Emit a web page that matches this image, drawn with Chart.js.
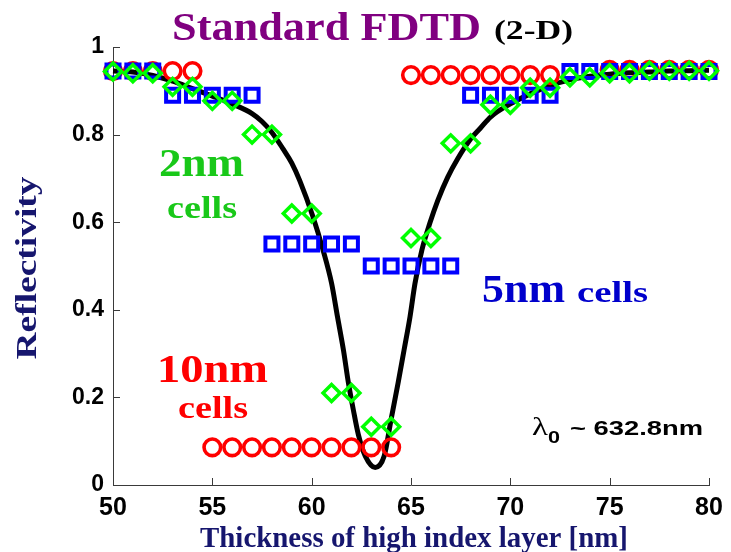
<!DOCTYPE html>
<html>
<head>
<meta charset="utf-8">
<script src="https://cdn.jsdelivr.net/npm/chart.js@4/dist/chart.umd.min.js"></script>
<style>
  html, body { margin: 0; padding: 0; background: #ffffff; }
  #wrap { width: 731px; height: 552px; position: relative; }
</style>
</head>
<body>
<div id="wrap"><canvas id="c" width="731" height="552"></canvas></div>
<script>
// Exact reflectivity curve versus thickness of the high index layer
const curveThickness = [50, 51, 52, 53, 54, 55, 56, 57, 57.5, 58, 58.55, 59, 59.4, 60.07, 60.57, 61.0, 61.3, 61.6, 61.85, 62.1, 62.35, 62.7, 63.2, 63.65, 64.0, 64.35, 64.65, 64.95, 65.2, 65.55, 65.95, 66.35, 66.85, 67.35, 68.0, 68.5, 69, 70, 71, 72, 73, 74, 75, 76, 77, 78, 79, 80];
const curveReflectivity = [0.945, 0.943, 0.935, 0.922, 0.905, 0.888, 0.87, 0.848, 0.83, 0.805, 0.768, 0.735, 0.695, 0.612, 0.537, 0.461, 0.384, 0.308, 0.233, 0.171, 0.115, 0.066, 0.04, 0.066, 0.15, 0.233, 0.308, 0.384, 0.46, 0.537, 0.598, 0.65, 0.703, 0.745, 0.79, 0.815, 0.84, 0.87, 0.893, 0.912, 0.925, 0.933, 0.938, 0.941, 0.943, 0.945, 0.946, 0.947];

// Standard FDTD results, one value per thickness (nm)
const thickness = [50, 51, 52, 53, 54, 55, 56, 57, 58, 59, 60, 61, 62, 63, 64, 65, 66, 67, 68, 69, 70, 71, 72, 73, 74, 75, 76, 77, 78, 79, 80];
const cells10nm = [0.945, 0.945, 0.945, 0.945, 0.945, 0.086, 0.086, 0.086, 0.086, 0.086, 0.086, 0.086, 0.086, 0.086, 0.086, 0.936, 0.936, 0.936, 0.936, 0.936, 0.936, 0.936, 0.936, null, null, 0.948, 0.948, 0.948, 0.948, 0.948, 0.948];
const cells5nm = [0.945, 0.945, 0.945, 0.89, 0.89, 0.89, 0.89, 0.89, 0.55, 0.55, 0.55, 0.55, 0.55, 0.50, 0.50, 0.50, 0.50, 0.50, 0.89, 0.89, 0.89, 0.89, 0.89, 0.944, 0.944, 0.944, 0.944, 0.944, 0.944, 0.944, 0.944];
const cells2nm = [0.944, 0.94, 0.94, 0.909, 0.909, 0.877, 0.877, 0.80, 0.80, 0.62, 0.62, 0.21, 0.21, 0.133, 0.133, 0.564, 0.564, 0.78, 0.78, 0.868, 0.868, 0.907, 0.907, 0.931, 0.931, 0.94, 0.94, 0.946, 0.946, 0.946, 0.946];

// Axis ticks
const xTickValues = [50, 55, 60, 65, 70, 75, 80];
const yTickValues = [0, 0.2, 0.4, 0.6, 0.8, 1];
const xTickLabels = ['50', '55', '60', '65', '70', '75', '80'];
const yTickLabels = ['0', '0.2', '0.4', '0.6', '0.8', '1'];

const SERIF = '"Liberation Serif", "Times New Roman", serif';
const SANS = '"Liberation Sans", Arial, sans-serif';
const AXIS_COLOR = '#3a3a3a';
const NAVY = '#16166e';

function pairs(xs, ys) {
  const out = [];
  for (let i = 0; i < xs.length; i++) {
    if (ys[i] !== null) out.push({ x: xs[i], y: ys[i] });
  }
  return out;
}

// Draw text stretched horizontally so it spans a given width
function fitText(ctx, str, x, y, font, color, width, align, rotation) {
  ctx.save();
  ctx.font = font;
  const natural = ctx.measureText(str).width;
  ctx.translate(x, y);
  if (rotation) ctx.rotate(rotation);
  ctx.scale(width / natural, 1);
  ctx.textAlign = align || 'left';
  ctx.textBaseline = 'alphabetic';
  ctx.fillStyle = color;
  ctx.fillText(str, 0, 0);
  ctx.restore();
}

// Short tick marks pointing into the plot
const inwardTicks = {
  id: 'inwardTicks',
  beforeDatasetsDraw(chart) {
    const { ctx, scales: { x, y } } = chart;
    ctx.save();
    ctx.strokeStyle = AXIS_COLOR;
    ctx.lineWidth = 1;
    ctx.beginPath();
    xTickValues.forEach(v => {
      const px = Math.round(x.getPixelForValue(v)) + 0.5;
      ctx.moveTo(px, y.bottom);
      ctx.lineTo(px, y.bottom - 7);
    });
    yTickValues.forEach(v => {
      const py = Math.round(y.getPixelForValue(v)) + 0.5;
      ctx.moveTo(x.left, py);
      ctx.lineTo(x.left + 7, py);
    });
    ctx.stroke();
    ctx.restore();
  }
};

// Titles and annotations
const annotations = {
  id: 'annotations',
  afterDraw(chart) {
    const ctx = chart.ctx;
    fitText(ctx, 'Standard FDTD', 172, 40, 'bold 40px ' + SERIF, '#800080', 309);
    fitText(ctx, '(2-D)', 494, 39, 'bold 28px ' + SERIF, '#000000', 79);

    fitText(ctx, '2nm', 159, 176, 'bold 40px ' + SERIF, '#19c819', 85);
    fitText(ctx, 'cells', 167, 218, 'bold 31px ' + SERIF, '#19c819', 70);

    fitText(ctx, '10nm', 157, 382, 'bold 40px ' + SERIF, '#ff0000', 111);
    fitText(ctx, 'cells', 178, 418, 'bold 31px ' + SERIF, '#ff0000', 70);

    fitText(ctx, '5nm', 482, 302, 'bold 40px ' + SERIF, '#0000cc', 83);
    fitText(ctx, 'cells', 577, 302, 'bold 30px ' + SERIF, '#0000cc', 71);

    fitText(ctx, 'λ', 532, 435, '26px ' + SERIF, '#000000', 16);
    fitText(ctx, '0', 548, 443, 'bold 16px ' + SANS, '#000000', 12);
    fitText(ctx, '~ 632.8nm', 570, 435, 'bold 21px ' + SANS, '#000000', 133);

    fitText(ctx, 'Reflectivity', 36, 268, 'bold 30px ' + SERIF, NAVY, 183, 'center', -Math.PI / 2);
    fitText(ctx, 'Thickness of high index layer [nm]', 414, 547, 'bold 29px ' + SERIF, NAVY, 428, 'center');
  }
};

new Chart(document.getElementById('c'), {
  type: 'scatter',
  data: {
    datasets: [
      {
        label: '2nm cells',
        data: pairs(thickness, cells2nm),
        pointStyle: 'rectRot',
        pointRadius: 8.5,
        pointBorderWidth: 3.5,
        pointBorderColor: '#00ff00',
        pointBackgroundColor: 'rgba(0,0,0,0)',
        showLine: false,
        clip: false,
        order: 0
      },
      {
        label: '5nm cells',
        data: pairs(thickness, cells5nm),
        pointStyle: 'rect',
        pointRadius: 9.2,
        pointBorderWidth: 4,
        pointBorderColor: '#0000ff',
        pointBackgroundColor: 'rgba(0,0,0,0)',
        showLine: false,
        clip: false,
        order: 1
      },
      {
        label: '10nm cells',
        data: pairs(thickness, cells10nm),
        pointStyle: 'circle',
        pointRadius: 8.3,
        pointBorderWidth: 3.6,
        pointBorderColor: '#ff0000',
        pointBackgroundColor: 'rgba(0,0,0,0)',
        showLine: false,
        clip: false,
        order: 2
      },
      {
        label: 'Exact',
        data: pairs(curveThickness, curveReflectivity),
        showLine: true,
        borderColor: '#000000',
        borderWidth: 5,
        pointRadius: 0,
        cubicInterpolationMode: 'monotone',
        clip: false,
        order: 3
      }
    ]
  },
  options: {
    responsive: false,
    animation: false,
    events: [],
    layout: { padding: { left: 0, top: 47, right: 22, bottom: 0 } },
    plugins: { legend: { display: false }, tooltip: { enabled: false }, title: { display: false } },
    scales: {
      x: {
        type: 'linear',
        min: 50,
        max: 80,
        afterFit(scale) { scale.height = 67; },
        afterBuildTicks(scale) { scale.ticks = xTickValues.map(v => ({ value: v })); },
        grid: { display: false, drawTicks: false },
        border: { display: true, color: AXIS_COLOR, width: 1 },
        ticks: {
          padding: 8,
          color: '#000000',
          maxRotation: 0,
          font: { family: SANS, size: 25, weight: 'bold' },
          callback: v => xTickLabels[xTickValues.indexOf(v)]
        }
      },
      y: {
        type: 'linear',
        min: 0,
        max: 1,
        afterFit(scale) { scale.width = 113; },
        afterBuildTicks(scale) { scale.ticks = yTickValues.map(v => ({ value: v })); },
        grid: { display: false, drawTicks: false },
        border: { display: true, color: AXIS_COLOR, width: 1 },
        ticks: {
          padding: 9,
          color: '#000000',
          font: { family: SANS, size: 23, weight: 'bold' },
          callback: v => yTickLabels[yTickValues.findIndex(t => Math.abs(t - v) < 1e-9)]
        }
      }
    }
  },
  plugins: [inwardTicks, annotations]
});
</script>
</body>
</html>
